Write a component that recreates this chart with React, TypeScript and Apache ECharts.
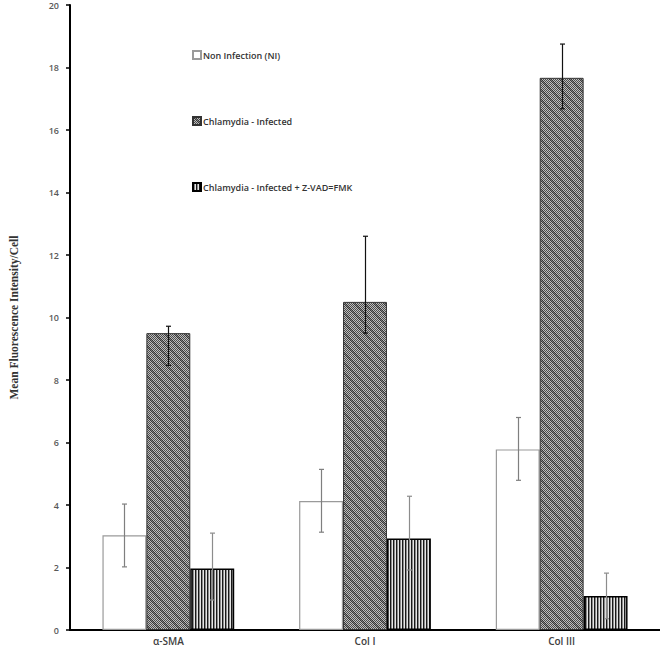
import React, { useEffect, useRef } from "react";
import * as echarts from "echarts";

const categories = ["α-SMA", "Col I", "Col III"];
const seriesNames = [
  "Non Infection (NI)",
  "Chlamydia - Infected",
  "Chlamydia - Infected + Z-VAD=FMK",
];
const niValues = [3.03, 4.13, 5.78];
const niLow = [2.02, 3.13, 4.79];
const niHigh = [4.03, 5.14, 6.8];
const infValues = [9.5, 10.5, 17.67];
const infLow = [8.47, 9.5, 16.68];
const infHigh = [9.72, 12.6, 18.75];
const zvadValues = [1.97, 2.93, 1.09];
const zvadLow = [0.96, 1.92, 0.36];
const zvadHigh = [3.1, 4.28, 1.82];
const yTicks = [0, 2, 4, 6, 8, 10, 12, 14, 16, 18, 20];

function makeInfectedTile(): HTMLCanvasElement {
  const n = 10;
  const c = document.createElement("canvas");
  c.width = n;
  c.height = n;
  const ctx = c.getContext("2d")!;
  const img = ctx.createImageData(n, n);
  for (let y = 0; y < n; y++) {
    for (let x = 0; x < n; x++) {
      const d = (((x - y) % n) + n) % n;
      const chk = (x + y) % 2 === 0;
      let v: number;
      if (d < 3) v = chk ? 55 : 125;
      else v = chk ? 75 : 190;
      const i = (y * n + x) * 4;
      img.data[i] = v;
      img.data[i + 1] = v;
      img.data[i + 2] = v;
      img.data[i + 3] = 255;
    }
  }
  ctx.putImageData(img, 0, 0);
  return c;
}

function makeStripeTile(): HTMLCanvasElement {
  const cols = [25, 140, 230];
  const c = document.createElement("canvas");
  c.width = 3;
  c.height = 4;
  const ctx = c.getContext("2d")!;
  cols.forEach((v, i) => {
    ctx.fillStyle = `rgb(${v},${v},${v})`;
    ctx.fillRect(i, 0, 1, 4);
  });
  return c;
}

export default function App() {
  const ref = useRef<HTMLDivElement>(null);
  useEffect(() => {
    if (!ref.current) return;
    const chart = echarts.init(ref.current, null, { renderer: "svg" });
    const infTile = makeInfectedTile();
    const stripeTile = makeStripeTile();
    const infPattern: any = {
      image: infTile,
      repeat: "repeat",
      imageWidth: infTile.width,
      imageHeight: infTile.height,
    };
    const stripePattern: any = {
      image: stripeTile,
      repeat: "repeat",
      imageWidth: stripeTile.width,
      imageHeight: stripeTile.height,
    };

    const errSeries = (idx: number, lo: number[], hi: number[], color: string) => ({
      type: "custom",
      name: "err" + idx,
      z: 10,
      silent: true,
      data: categories.map((_, i) => [i, lo[i], hi[i]]),
      encode: { x: 0, y: [1, 2] },
      renderItem: (params: any, api: any) => {
        const ci = api.value(0);
        const pLo = api.coord([ci, api.value(1)]);
        const pHi = api.coord([ci, api.value(2)]);
        const band = api.size([1, 0])[0];
        const bw = (band * 0.67) / 3;
        const x = Math.round(pLo[0] + (idx - 1) * bw) + 0.5;
        const cap = 2.5;
        const style = { stroke: color, lineWidth: 1.2 };
        return {
          type: "group",
          children: [
            { type: "line", shape: { x1: x, y1: pLo[1], x2: x, y2: pHi[1] }, style },
            { type: "line", shape: { x1: x - cap, y1: pHi[1], x2: x + cap, y2: pHi[1] }, style },
            { type: "line", shape: { x1: x - cap, y1: pLo[1], x2: x + cap, y2: pLo[1] }, style },
          ],
        };
      },
    });

    chart.setOption({
      animation: false,
      backgroundColor: "#ffffff",
      grid: { left: 62, right: 0, top: 5, bottom: 21, containLabel: false },
      legend: {
        data: seriesNames.map((n) => ({ name: n, icon: "rect" })),
        orient: "vertical",
        left: 192,
        top: 50,
        itemWidth: 8,
        itemHeight: 8,
        itemGap: 56,
        padding: 0,
        textStyle: {
          fontFamily: "Open Sans",
          fontSize: 9,
          fontWeight: 600,
          color: "#333",
          padding: [0, 0, 0, -3],
        },
      },
      xAxis: {
        type: "category",
        data: categories,
        axisLine: { show: true, lineStyle: { color: "#000", width: 2 } },
        axisTick: { show: false },
        axisLabel: {
          margin: 6,
          fontFamily: "Open Sans",
          fontSize: 10,
          fontWeight: 600,
          color: "#404040",
        },
      },
      yAxis: {
        type: "value",
        min: yTicks[0],
        max: yTicks[yTicks.length - 1],
        interval: 2,
        name: "Mean Fluorescence Intensity/Cell",
        nameLocation: "middle",
        nameGap: 50,
        nameTextStyle: {
          fontFamily: "Liberation Serif",
          fontSize: 11.5,
          fontWeight: "bold",
          color: "#333",
        },
        splitLine: { show: false },
        axisLine: { show: true, lineStyle: { color: "#000", width: 2 } },
        axisTick: { show: true, length: 4, lineStyle: { color: "#000", width: 1.5 } },
        axisLabel: {
          margin: 11,
          fontFamily: "Open Sans",
          fontSize: 9,
          fontWeight: 600,
          color: "#595959",
        },
      },
      series: [
        {
          type: "bar",
          name: seriesNames[0],
          data: niValues,
          barGap: "0%",
          barCategoryGap: "33%",
          itemStyle: { color: "#ffffff", borderColor: "#9a9a9a", borderWidth: 1.2 },
        },
        {
          type: "bar",
          name: seriesNames[1],
          data: infValues,
          barGap: "0%",
          barCategoryGap: "33%",
          itemStyle: { color: infPattern, borderColor: "#333", borderWidth: 1 },
        },
        {
          type: "bar",
          name: seriesNames[2],
          data: zvadValues,
          barGap: "0%",
          barCategoryGap: "33%",
          itemStyle: { color: stripePattern, borderColor: "#000", borderWidth: 1.5 },
        },
        errSeries(0, niLow, niHigh, "#7f7f7f"),
        errSeries(1, infLow, infHigh, "#111"),
        errSeries(2, zvadLow, zvadHigh, "#8c8c8c"),
      ],
    });
    return () => chart.dispose();
  }, []);
  return (
    <div
      ref={ref}
      style={{ position: "fixed", left: 0, top: 0, width: 660, height: 651, background: "#fff" }}
    />
  );
}
